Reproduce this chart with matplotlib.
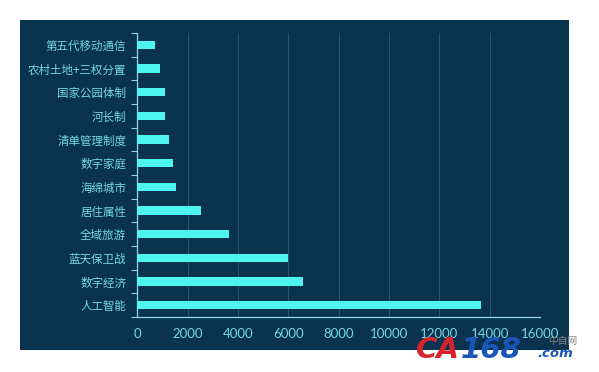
import matplotlib.pyplot as plt

plt.rcParams['font.family'] = ['Noto Sans CJK SC', 'DejaVu Sans']

# =========================
# 数据
# =========================
categories = ["人工智能", "数字经济", "蓝天保卫战", "全域旅游", "居住属性", "海绵城市",
              "数字家庭", "清单管理制度", "河长制", "国家公园体制", "农村土地+三权分置",
              "第五代移动通信"]
values = [13650, 6600, 6000, 3650, 2540, 1530, 1400, 1260, 1110, 1090, 910, 700]
x_ticks = [0, 2000, 4000, 6000, 8000, 10000, 12000, 14000, 16000]

BG = "#0a3350"
BAR = "#4ef5f0"
TXT = "#74d8e2"
AXC = "#8fd6e0"

fig = plt.figure(figsize=(5.99, 3.72), dpi=100)
fig.patch.set_facecolor("white")

# 深色面板
bg = fig.add_axes([20 / 599, 22 / 372, 549 / 599, 330 / 372])
bg.set_facecolor(BG)
bg.set_xticks([])
bg.set_yticks([])
for s in bg.spines.values():
    s.set_visible(False)
bg.set_zorder(0)

ax = fig.add_axes([137.3 / 599, 55 / 372, (540 - 137.3) / 599, (339 - 55) / 372])
ax.set_facecolor("none")
ax.set_zorder(1)

ypos = list(range(len(categories)))
ax.barh(ypos, values, height=0.36, color=BAR, zorder=3)

ax.set_xlim(0, 16000)
ax.set_ylim(-0.5, len(categories) - 0.5)
ax.set_xticks(x_ticks)
ax.set_xticklabels([str(t) for t in x_ticks], color=TXT, fontsize=9.5,
                   family=["Lato", "DejaVu Sans"])
ax.set_yticks(ypos)
ax.set_yticklabels(categories, color=TXT, fontsize=8.3)
ax.set_yticks([i - 0.5 for i in range(len(categories) + 1)], minor=True)

ax.tick_params(axis="y", which="major", length=0, pad=8)
ax.tick_params(axis="y", which="minor", length=4, color=AXC, width=0.8)
ax.tick_params(axis="x", length=0, pad=8)

ax.grid(True, axis="x", color="#5f8ea3", alpha=0.45, linewidth=0.6, zorder=0)

for s in ["top", "right"]:
    ax.spines[s].set_visible(False)
ax.spines["left"].set_color(AXC)
ax.spines["bottom"].set_color(AXC)
ax.spines["left"].set_linewidth(0.9)
ax.spines["bottom"].set_linewidth(0.9)

# 水印
wm = fig.add_axes([0, 0, 1, 1])
wm.set_axis_off()
wm.set_zorder(2)
wm.set_xlim(0, 599)
wm.set_ylim(372, 0)
wm.text(416, 358, "CA", color="#d8232a", fontsize=21, fontweight="bold",
        style="italic", family=["DejaVu Sans"])
wm.text(461, 358, "168", color="#1a56b8", fontsize=21, fontweight="bold",
        style="italic", family=["DejaVu Sans"])
wm.text(537, 357, ".com", color="#1a56b8", fontsize=9.5, fontweight="bold",
        style="italic", family=["DejaVu Sans"])
wm.text(548, 344, "中自网", color="#888888", fontsize=7,
        family=["Noto Sans CJK SC"])

plt.savefig("out.png", dpi=100, facecolor=fig.get_facecolor())
